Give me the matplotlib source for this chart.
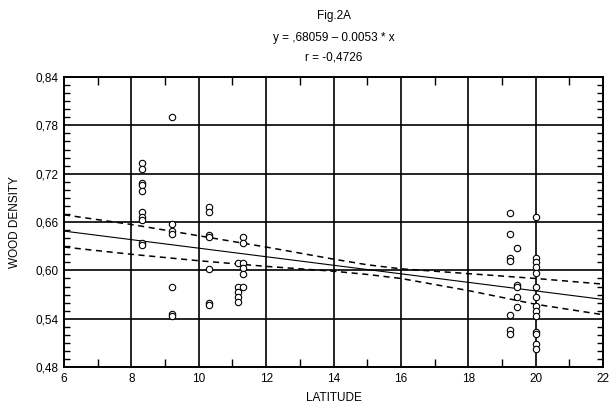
import matplotlib
matplotlib.use('Agg')
import matplotlib.pyplot as plt
import numpy as np

plt.rcParams['font.family'] = ['Liberation Sans', 'DejaVu Sans']

# scatter data
lat = [8.3, 8.3, 8.3, 8.3, 8.3, 8.3, 8.3, 8.3, 8.3, 8.3,
       9.2, 9.2, 9.2, 9.2, 9.2, 9.2, 9.2,
       10.3, 10.3, 10.3, 10.3, 10.3, 10.3, 10.3,
       11.15, 11.15, 11.15, 11.15, 11.15,
       11.3, 11.3, 11.3, 11.3, 11.3, 11.3,
       19.25, 19.25, 19.25, 19.25, 19.25, 19.25, 19.25,
       19.45, 19.45, 19.45, 19.45, 19.45,
       20, 20, 20, 20, 20, 20, 20, 20, 20, 20, 20, 20, 20, 20]
density = [0.733, 0.726, 0.709, 0.706, 0.698, 0.672, 0.666, 0.662, 0.634, 0.631,
           0.790, 0.657, 0.649, 0.645, 0.579, 0.546, 0.544,
           0.679, 0.673, 0.644, 0.641, 0.602, 0.560, 0.557,
           0.609, 0.580, 0.573, 0.567, 0.561,
           0.641, 0.634, 0.609, 0.603, 0.595, 0.580,
           0.671, 0.645, 0.615, 0.612, 0.545, 0.526, 0.521,
           0.628, 0.582, 0.579, 0.567, 0.554,
           0.666, 0.615, 0.610, 0.604, 0.597, 0.579, 0.567, 0.556, 0.550,
           0.543, 0.524, 0.521, 0.509, 0.502]

# regression from the title: y = .68059 - 0.0053 * x
intercept = 0.68059
slope = -0.0053

# dashed bands
band_x = [6, 8, 10, 12, 14, 15, 16, 18, 20, 22]
band_upper = [0.669, 0.657, 0.643, 0.629, 0.614, 0.607, 0.602, 0.596, 0.590, 0.583]
band_lower = [0.629, 0.620, 0.612, 0.605, 0.599, 0.595, 0.590, 0.575, 0.558, 0.545]

x_ticks = [6, 8, 10, 12, 14, 16, 18, 20, 22]
y_ticks = [0.48, 0.54, 0.60, 0.66, 0.72, 0.78, 0.84]
y_tick_labels = ['0,48', '0,54', '0,60', '0,66', '0,72', '0,78', '0,84']

fig = plt.figure(figsize=(6.1, 4.12), dpi=100)
ax = fig.add_axes([0.105, 0.109, 0.8835, 0.704])

ax.set_xlim(6, 22)
ax.set_ylim(0.48, 0.84)

ax.set_xticks(x_ticks)
ax.set_xticks(np.arange(7, 22, 2), minor=True)
ax.set_yticks(y_ticks)
ax.set_yticklabels(y_tick_labels)
ax.set_yticks(np.arange(0.49, 0.84, 0.01), minor=True)

ax.grid(True, which='major', color='black', linewidth=1.2)
ax.tick_params(which='both', direction='in', top=True, right=True,
               labelsize=8.5, color='black', pad=4)
ax.tick_params(which='major', length=0)
ax.tick_params(which='minor', length=4, width=1)
ax.tick_params(axis='x', which='minor', length=6)
for s in ax.spines.values():
    s.set_linewidth(1.4)

xs = np.array([6, 22])
ax.plot(xs, intercept + slope * xs, color='black', linewidth=0.8)
ax.plot(band_x, band_upper, color='black', linewidth=1.1, dashes=(4, 3))
ax.plot(band_x, band_lower, color='black', linewidth=1.1, dashes=(4, 3))

ax.plot(lat, density, linestyle='none', marker='o', markersize=4.6,
        markerfacecolor='white', markeredgecolor='black', markeredgewidth=0.8)

ax.set_xlabel('LATITUDE', fontsize=8.5, labelpad=5)
ax.set_ylabel('WOOD DENSITY', fontsize=8.5, labelpad=10)

cx = 0.105 + 0.8835 / 2
fig.text(cx, 1 - 16 / 412, 'Fig.2A', ha='center', va='center', fontsize=8.5)
fig.text(cx, 1 - 38 / 412, 'y = ,68059 \u2013 0.0053 * x', ha='center', va='center', fontsize=8.5)
fig.text(cx, 1 - 58 / 412, 'r = -0,4726', ha='center', va='center', fontsize=8.5)

fig.savefig('out.png', dpi=100)
